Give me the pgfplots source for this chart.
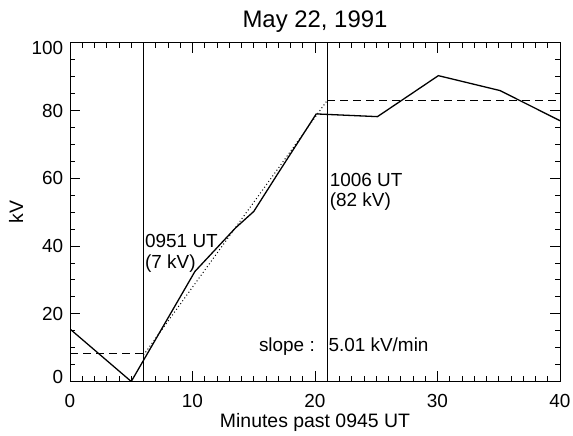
\documentclass[border=0pt]{standalone}
\usepackage{fontspec}
\setmainfont{Liberation Sans}
\usepackage{pgfplots}
\pgfplotsset{compat=1.18}
\begin{document}
\begin{tikzpicture}
% axis carrying the data, labels and title
\begin{axis}[
  scale only axis,
  width=490bp, height=338.7bp,
  xmin=0, xmax=40, ymin=0, ymax=100,
  xtick={0,10,20,30,40},
  ytick={0,20,40,60,80,100},
  major tick length=0pt, minor tick length=0pt,
  axis line style={line width=0.9pt},
  yticklabels={\raisebox{5bp}[\height][\depth]{0},20,40,60,80,\raisebox{-5bp}[\height][\depth]{100}},
  tick label style={font=\fontsize{19}{22}\selectfont, inner sep=0pt},
  xticklabel style={anchor=base, yshift=-26.3bp},
  yticklabel style={anchor=east, xshift=-6.7bp},
  every axis title/.style={at={(0.5,1)}, anchor=base, yshift=15bp, inner sep=0pt, font=\fontsize{24}{28}\selectfont},
  every axis x label/.style={at={(0.5,0)}, anchor=base, yshift=-46.3bp, inner sep=0pt, font=\fontsize{19.5}{22}\selectfont},
  every axis y label/.style={at={(0,0.5)}, xshift=-54bp, rotate=90, anchor=center, inner sep=0pt, font=\fontsize{19.5}{22}\selectfont},
  title={May 22, 1991},
  xlabel={Minutes past 0945 UT},
  ylabel={kV},
  /pgf/number format/assume math mode=true,
]
% measured potential
\addplot[black, line width=1.3bp] coordinates {
  (0,15.5) (5,0) (10.2,32.5) (13.5,45.3) (15,50.2) (16.9,61.0)
  (20.1,79.0) (25.1,78.2) (30.07,90.3) (35.1,85.9) (40,77.0)
};
% vertical markers
\addplot[black, line width=0.8bp] coordinates {(6,0) (6,100)};
\addplot[black, line width=0.8bp] coordinates {(21,0) (21,100)};
% dashed levels
\addplot[black, line width=1bp, dash pattern=on 8bp off 5bp] coordinates {(0,8.3) (6,8.3)};
\addplot[black, line width=1bp, dash pattern=on 8bp off 5bp] coordinates {(21,83.0) (40,83.0)};
% dotted linear fit
\addplot[black, line width=1bp, dash pattern=on 1bp off 2.5bp] coordinates {(6,7.8) (21,83.0)};
% annotations
\node[anchor=base west, inner sep=0pt, font=\fontsize{19}{22}\selectfont] at (axis cs:6.12,39.5) {0951 UT};
\node[anchor=base west, inner sep=0pt, font=\fontsize{19}{22}\selectfont] at (axis cs:6.12,33.5) {(7 kV)};
\node[anchor=base west, inner sep=0pt, font=\fontsize{19}{22}\selectfont] at (axis cs:21.2,57.6) {1006 UT};
\node[anchor=base west, inner sep=0pt, font=\fontsize{19}{22}\selectfont] at (axis cs:21.2,51.7) {(82 kV)};
\node[anchor=base east, inner sep=0pt, font=\fontsize{19}{22}\selectfont] at (axis cs:20.0,8.9) {slope :};
\node[anchor=base west, inner sep=0pt, font=\fontsize{19}{22}\selectfont] at (axis cs:21.09,8.9) {5.01 kV/min};
\end{axis}
% overlaid axis that only draws the tick marks on all four sides
\begin{axis}[
  scale only axis,
  width=490bp, height=338.7bp,
  xmin=0, xmax=40, ymin=0, ymax=100,
  xtick={0,10,20,30,40},
  ytick={0,20,40,60,80,100},
  xticklabels={}, yticklabels={},
  minor x tick num=9, minor y tick num=3,
  major tick length=10bp, minor tick length=5bp,
  tick style={black, line width=0.8pt},
  axis line style={line width=0.9pt},
  tick align=inside,
]
\end{axis}
\path ([shift={(-70bp,-54.3bp)}]current axis.south west) rectangle ([shift={(13bp,42.8bp)}]current axis.north east);
\end{tikzpicture}
\end{document}
